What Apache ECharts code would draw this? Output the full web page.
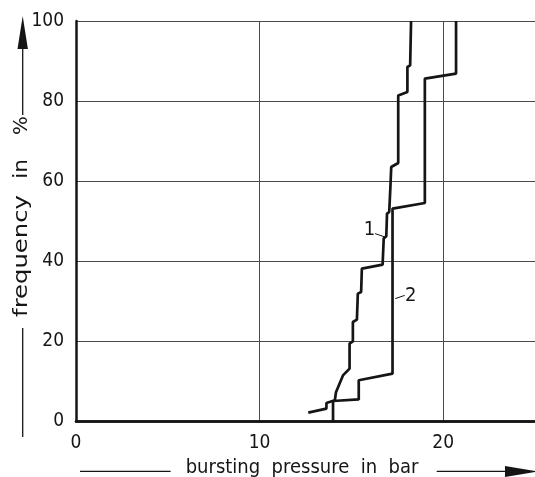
<!DOCTYPE html>
<html>
<head>
<meta charset="utf-8">
<script src="https://cdn.jsdelivr.net/npm/echarts@6/dist/echarts.min.js"></script>
<style>
  html, body { margin: 0; padding: 0; background: #ffffff; }
  #chart { width: 535px; height: 477px; }
</style>
</head>
<body>
<div id="chart"></div>
<script>
// Cumulative frequency of bursting pressure, two test series (stepped curves)
const curve1 = [
  [12.65, 2.1], [13.64, 3.1], [13.64, 4.5], [14.1, 5.2], [14.16, 7.2],
  [14.54, 11.4], [14.54, 11.85], [14.9, 13.1], [14.9, 19.35], [15.08, 19.9],
  [15.08, 24.75], [15.3, 25.35], [15.35, 31.85], [15.53, 32.25], [15.57, 38.1],
  [16.7, 39.1], [16.76, 45.6], [16.9, 46.2], [16.94, 51.85], [17.06, 52.25],
  [17.12, 58.1], [17.17, 63.5], [17.55, 64.5], [17.55, 81.4], [18.05, 82.25],
  [18.05, 88.5], [18.2, 88.9], [18.25, 100]
];
const curve2 = [
  [14.0, 0], [14.0, 5.0], [15.4, 5.4], [15.4, 10.2], [17.24, 11.85],
  [17.24, 53.1], [19.0, 54.5], [19.0, 85.6], [20.7, 86.85], [20.7, 100]
];
// Leader lines for the curve numbers, from near the number to the curve
const leader1 = [[16.29, 46.85], [16.83, 46.0]];
const leader2 = [[17.9, 31.4], [17.39, 30.6]];
// Positions of the curve numbers
const curveNames = ['1', '2'];
const namePoints = [[15.98, 47.7], [18.23, 31.4]];
const xTicks = [0, 10, 20];
const yTicks = [0, 20, 40, 60, 80, 100];

const FONT = '"Liberation Sans Narrow", "DejaVu Sans Condensed", "Liberation Sans", sans-serif';
const INK = '#151515';

const chart = echarts.init(document.getElementById('chart'), null, { renderer: 'canvas' });

const tickText = { color: INK, fontFamily: FONT, fontSize: 19 };

// rotated y-axis title, one word at a time so the words sit spread along the axis
function yTitleWord(text, cy, scale) {
  return {
    type: 'text', x: 22, y: cy, rotation: Math.PI / 2, scaleX: scale,
    style: { text: text, fill: INK, font: '20px ' + FONT, align: 'center', verticalAlign: 'middle' }
  };
}

const decorations = [
  // y-axis title with arrow
  yTitleWord('%', 125.5, 1.1),
  yTitleWord('in', 169, 1.2),
  yTitleWord('frequency', 256, 1.35),
  { type: 'line', shape: { x1: 22.7, y1: 437, x2: 22.7, y2: 328 }, style: { stroke: INK, lineWidth: 1.3 } },
  { type: 'line', shape: { x1: 22.7, y1: 115, x2: 22.7, y2: 46 }, style: { stroke: INK, lineWidth: 1.3 } },
  { type: 'polygon', shape: { points: [[22.7, 16], [17.5, 49], [27.9, 49]] }, style: { fill: INK } },
  // x-axis title with arrow
  { type: 'text', x: 302, y: 468,
    style: { text: 'bursting  pressure  in  bar', fill: INK, font: '20px ' + FONT,
      align: 'center', verticalAlign: 'middle' } },
  { type: 'line', shape: { x1: 80, y1: 471.4, x2: 170.6, y2: 471.4 }, style: { stroke: INK, lineWidth: 1.3 } },
  { type: 'line', shape: { x1: 436.7, y1: 471.4, x2: 507, y2: 471.4 }, style: { stroke: INK, lineWidth: 1.3 } },
  { type: 'polygon', shape: { points: [[505, 466], [505, 477], [538, 471.4]] }, style: { fill: INK } }
];

chart.setOption({
  animation: false,
  backgroundColor: '#ffffff',
  grid: { left: 76, right: -3.5, top: 21, bottom: 56, containLabel: false },
  xAxis: [{
    type: 'value', min: 0, max: 25, interval: 10,
    axisLine: { show: true, onZero: false, lineStyle: { color: INK, width: 2.5 } },
    axisTick: { show: false },
    axisLabel: Object.assign({ margin: 13, showMaxLabel: false,
      formatter: v => (xTicks.indexOf(v) >= 0 ? String(v) : '') }, tickText),
    splitLine: { show: true, lineStyle: { color: '#4a4a4a', width: 1 } }
  }, {
    type: 'value', min: 0, max: 25, position: 'top',
    axisLine: { show: true, lineStyle: { color: INK, width: 2.5 } },
    axisTick: { show: false }, axisLabel: { show: false }, splitLine: { show: false }
  }],
  yAxis: {
    type: 'value', min: 0, max: 100, interval: 20,
    axisLine: { show: true, onZero: false, lineStyle: { color: INK, width: 2.5 } },
    axisTick: { show: false },
    axisLabel: Object.assign({ margin: 12,
      formatter: v => (yTicks.indexOf(v) >= 0 ? String(v) : '') }, tickText),
    splitLine: { show: true, lineStyle: { color: '#4a4a4a', width: 1 } }
  },
  series: [
    {
      type: 'line', data: curve1, symbol: 'none', silent: true,
      lineStyle: { color: INK, width: 2.7 }, z: 5
    },
    {
      type: 'line', data: curve2, symbol: 'none', silent: true,
      lineStyle: { color: INK, width: 2.7 }, z: 5
    },
    {
      type: 'line', data: leader1, symbol: 'none', silent: true,
      lineStyle: { color: INK, width: 1 }
    },
    {
      type: 'line', data: leader2, symbol: 'none', silent: true,
      lineStyle: { color: INK, width: 1 }
    }
  ],
  graphic: decorations
});

// curve numbers, placed through the chart's own coordinate system
const curveLabels = namePoints.map((pt, i) => {
  const px = chart.convertToPixel({ gridIndex: 0 }, pt);
  return {
    type: 'text', x: px[0], y: px[1], z: 10,
    style: { text: curveNames[i], fill: INK, font: '20px ' + FONT,
      align: 'center', verticalAlign: 'middle' }
  };
});
chart.setOption({ graphic: decorations.concat(curveLabels) });
</script>
</body>
</html>
